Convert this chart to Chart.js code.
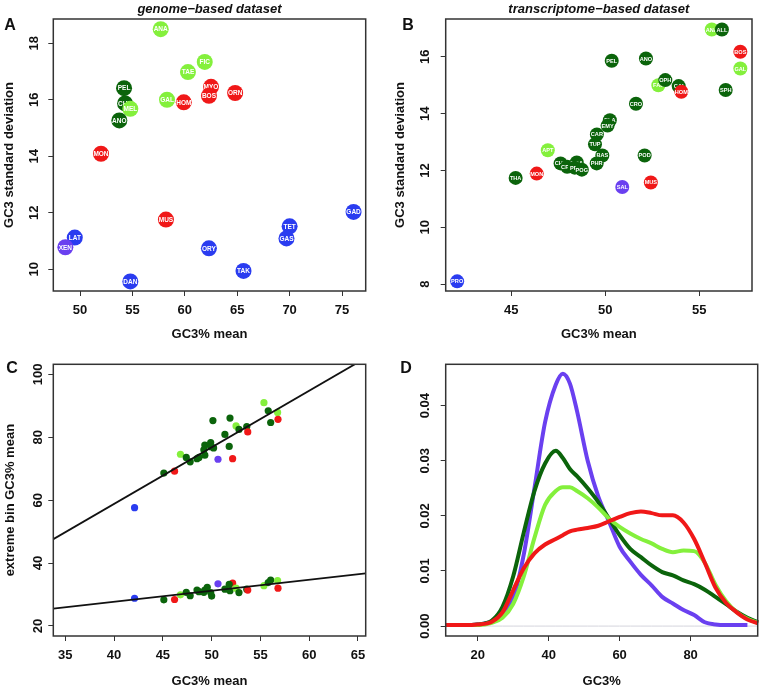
<!DOCTYPE html>
<html>
<head>
<meta charset="utf-8">
<script src="https://cdn.jsdelivr.net/npm/chart.js@4"></script>
<style>
  body { margin: 0; background: #fff; }
  #fig { position: relative; width: 759px; height: 691px; }
  #fig canvas { position: absolute; }
</style>
</head>
<body>
<div id="fig">
  <canvas id="cA" width="380" height="345" style="left:0;top:0"></canvas>
  <canvas id="cB" width="379" height="345" style="left:380px;top:0"></canvas>
  <canvas id="cC" width="380" height="346" style="left:0;top:345px"></canvas>
  <canvas id="cD" width="379" height="346" style="left:380px;top:345px"></canvas>
</div>
<script>
// panel A: genome-based dataset
const A_TAGS = ['ANA', 'FIC', 'TAE', 'MYO', 'ORN', 'BOS', 'HOM', 'GAL', 'PEL', 'CHR', 'MEL', 'ANO', 'MON', 'MUS', 'GAD', 'TET', 'GAS', 'LAT', 'XEN', 'ORY', 'TAK', 'DAN'];
const A_MEAN = [57.7, 61.9, 60.3, 62.5, 64.8, 62.3, 59.9, 58.3, 54.2, 54.3, 54.8, 53.75, 52.0, 58.2, 76.1, 70.0, 69.7, 49.5, 48.6, 62.3, 65.6, 54.8];
const A_SD = [18.5, 17.34, 16.98, 16.46, 16.24, 16.14, 15.91, 16.0, 16.41, 15.87, 15.68, 15.27, 14.09, 11.76, 12.03, 11.52, 11.09, 11.12, 10.78, 10.74, 9.94, 9.57];
const A_GROUP = ['lg', 'lg', 'lg', 'red', 'red', 'red', 'red', 'lg', 'dg', 'dg', 'lg', 'dg', 'red', 'red', 'blue', 'blue', 'blue', 'blue', 'pur', 'blue', 'blue', 'blue'];
const A_XTICKS = [50, 55, 60, 65, 70, 75];
const A_YTICKS = [10, 12, 14, 16, 18];

// panel B: transcriptome-based dataset
const B_TAGS = ['THA', 'MON', 'APT', 'CHE', 'CRA', 'BOA', 'PRI', 'POG', 'TUP', 'CAR', 'BAS', 'PHR', 'ELA', 'EMY', 'PEL', 'CRO', 'POD', 'SAL', 'MUS', 'ANO', 'FAL', 'OPH', 'CAI', 'HOM', 'ANA', 'ALL', 'SPH', 'GAL', 'BOS', 'PRO'];
const B_MEAN = [45.23, 46.35, 46.94, 47.62, 47.97, 48.48, 48.37, 48.75, 49.45, 49.55, 49.84, 49.54, 50.24, 50.12, 50.34, 51.63, 52.09, 50.9, 52.42, 52.16, 52.82, 53.19, 53.9, 54.04, 55.66, 56.2, 56.4, 57.18, 57.18, 42.12];
const B_SD = [11.74, 11.89, 12.71, 12.25, 12.13, 12.28, 12.1, 12.03, 12.92, 13.27, 12.53, 12.25, 13.77, 13.58, 15.86, 14.35, 12.53, 11.42, 11.58, 15.94, 15.0, 15.18, 14.97, 14.77, 16.96, 16.96, 14.83, 15.59, 16.18, 8.1];
const B_GROUP = ['dg', 'red', 'lg', 'dg', 'dg', 'dg', 'dg', 'dg', 'dg', 'dg', 'dg', 'dg', 'dg', 'dg', 'dg', 'dg', 'dg', 'pur', 'red', 'dg', 'lg', 'dg', 'dg', 'red', 'lg', 'dg', 'dg', 'lg', 'red', 'blue'];
const B_XTICKS = [45, 50, 55];
const B_YTICKS = [8, 10, 12, 14, 16];

// panel C: extreme bins vs mean
const C_UP_X = [55.36, 55.8, 56.76, 51.88, 50.13, 56.8, 56.05, 52.5, 53.6, 52.8, 53.7, 51.36, 49.9, 49.3, 51.8, 49.9, 50.2, 49.2, 49.3, 50.65, 52.15, 46.8, 47.4, 47.8, 48.5, 48.7, 45.1, 46.2, 42.1];
const C_UP_Y = [91.0, 88.4, 87.9, 86.1, 85.3, 85.7, 84.7, 83.6, 83.4, 82.5, 81.7, 80.9, 78.3, 77.5, 77.1, 77.0, 76.6, 76.0, 74.3, 73.0, 73.2, 74.6, 73.6, 72.2, 73.2, 73.6, 68.6, 69.2, 57.6];
const C_UP_GROUP = ['lg', 'dg', 'lg', 'dg', 'dg', 'red', 'dg', 'lg', 'dg', 'dg', 'red', 'dg', 'dg', 'dg', 'dg', 'dg', 'dg', 'dg', 'dg', 'pur', 'red', 'lg', 'dg', 'dg', 'dg', 'dg', 'dg', 'red', 'blue'];
const C_LO_X = [42.1, 45.1, 46.2, 46.8, 47.4, 47.8, 48.5, 48.7, 49.3, 49.55, 49.2, 50.0, 49.9, 50.65, 52.15, 51.36, 51.8, 51.88, 52.5, 52.8, 53.6, 53.7, 55.36, 55.8, 56.05, 56.76, 56.8];
const C_LO_Y = [28.8, 28.3, 28.4, 29.9, 30.7, 29.6, 31.4, 30.9, 31.4, 32.3, 30.7, 29.5, 30.6, 33.4, 33.6, 31.7, 33.2, 31.2, 32.0, 30.6, 31.7, 31.4, 32.8, 33.8, 34.6, 34.4, 32.0];
const C_LO_GROUP = ['blue', 'dg', 'red', 'lg', 'dg', 'dg', 'dg', 'dg', 'dg', 'dg', 'dg', 'dg', 'dg', 'pur', 'red', 'dg', 'dg', 'dg', 'lg', 'dg', 'dg', 'red', 'lg', 'dg', 'dg', 'lg', 'red'];
const C_FIT_UP = { slope: 1.80, intercept: -13.2 };
const C_FIT_LO = { slope: 0.351, intercept: 13.65 };
const C_XTICKS = [35, 40, 45, 50, 55, 60, 65];
const C_YTICKS = [20, 40, 60, 80, 100];

// panel D: GC3 densities
const D_GC = [11, 16, 20, 24, 27, 30, 33, 36, 39, 42, 44, 46, 48, 51, 54, 57, 60, 63, 66, 69, 72, 75, 78, 81, 84, 87, 90, 93, 96, 99];
const D_PURPLE = [0.0002, 0.0002, 0.0003, 0.0008, 0.002, 0.005, 0.013, 0.025, 0.037, 0.0438, 0.0458, 0.044, 0.039, 0.030, 0.0235, 0.019, 0.0144, 0.0117, 0.0093, 0.0074, 0.0053, 0.0041, 0.0029, 0.002, 0.0007, 0.0003, 0.0002, 0.0002, 0.0002, null];
const D_DARK = [0.0002, 0.0002, 0.0003, 0.001, 0.0035, 0.009, 0.017, 0.0245, 0.0295, 0.0318, 0.0305, 0.0285, 0.0272, 0.025, 0.0225, 0.0195, 0.0165, 0.014, 0.0125, 0.011, 0.0098, 0.0092, 0.0083, 0.0076, 0.0066, 0.0053, 0.004, 0.0026, 0.0015, 0.0007];
const D_LIGHT = [0.0002, 0.0002, 0.0002, 0.0006, 0.0015, 0.004, 0.009, 0.016, 0.022, 0.0245, 0.0252, 0.0252, 0.0245, 0.0232, 0.0215, 0.0195, 0.018, 0.0168, 0.0158, 0.015, 0.014, 0.0134, 0.0137, 0.0136, 0.0115, 0.0075, 0.0045, 0.0025, 0.0013, 0.0006];
const D_RED = [0.0002, 0.0002, 0.0003, 0.0008, 0.0025, 0.0065, 0.0105, 0.0132, 0.0148, 0.0158, 0.0165, 0.0172, 0.0175, 0.0178, 0.0182, 0.019, 0.0198, 0.0205, 0.0208, 0.0205, 0.0201, 0.0201, 0.0188, 0.0158, 0.0115, 0.007, 0.0042, 0.0025, 0.0012, 0.0005];
const D_XTICKS = [20, 40, 60, 80];
const D_YTICKS = [0, 0.01, 0.02, 0.03, 0.04];

const COLORS = { dg: '#0b640b', lg: '#84f03c', red: '#f01818', blue: '#2a3cf0', pur: '#6a40f0' };
const FAMILY = '"Liberation Sans", Arial, sans-serif';
const FONT13 = { family: FAMILY, size: 13, weight: 'bold', lineHeight: 1.2 };

// draws the frame round the plot area and the panel letter
const framePlugin = {
  id: 'frame',
  afterDraw(chart, args, opts) {
    const { ctx, chartArea: a } = chart;
    ctx.save();
    ctx.strokeStyle = '#333';
    ctx.lineWidth = 1.5;
    ctx.strokeRect(a.left, a.top, a.right - a.left, a.bottom - a.top);
    ctx.fillStyle = '#111';
    ctx.font = 'bold 16px ' + FAMILY;
    ctx.textAlign = 'center';
    ctx.textBaseline = 'middle';
    ctx.fillText(opts.letter, opts.lx, opts.ly);
    ctx.restore();
  }
};

// white abbreviation on each circle, drawn right after its own dataset
const tagPlugin = {
  id: 'tags',
  afterDatasetDraw(chart, args, opts) {
    const ds = chart.data.datasets[args.index];
    if (!ds.tag) return;
    const pt = args.meta.data[0];
    const ctx = chart.ctx;
    ctx.save();
    ctx.fillStyle = '#fff';
    ctx.font = 'bold ' + opts.size + 'px ' + FAMILY;
    ctx.textAlign = 'center';
    ctx.textBaseline = 'middle';
    ctx.fillText(ds.tag, pt.x, pt.y + 0.5);
    ctx.restore();
  }
};

function axis(o) {
  return {
    type: 'linear',
    min: o.min,
    max: o.max,
    afterBuildTicks: s => { s.ticks = o.ticks.map(v => ({ value: v })); },
    afterFit: s => { if (o.isY) s.width = o.size; else s.height = o.size; },
    border: { display: false },
    grid: { drawOnChartArea: false, drawTicks: true, tickLength: 5, tickColor: '#333', tickWidth: 1 },
    ticks: {
      color: '#111',
      font: FONT13,
      padding: o.pad,
      minRotation: o.isY ? 90 : 0,
      maxRotation: o.isY ? 90 : 0,
      crossAlign: o.isY ? 'center' : 'near',
      callback: v => (o.fmt ? o.fmt(v) : String(v))
    },
    title: {
      display: !!o.title,
      text: o.title,
      color: '#111',
      font: FONT13,
      padding: { top: o.tpad || 0, bottom: o.tpad || 0 }
    }
  };
}

function labelled(xs, ys, tags, groups, r) {
  return xs.map((x, i) => ({
    data: [{ x: x, y: ys[i] }],
    tag: tags[i],
    order: xs.length - i,
    backgroundColor: COLORS[groups[i]],
    borderWidth: 0,
    pointRadius: r,
    pointHoverRadius: r,
    clip: false
  }));
}

function baseOptions(o) {
  return {
    responsive: false,
    animation: false,
    events: [],
    layout: { padding: o.padding },
    scales: { x: o.x, y: o.y },
    plugins: {
      legend: { display: false },
      tooltip: { enabled: false },
      title: o.title ? {
        display: true,
        text: o.title,
        fullSize: false,
        color: '#111',
        font: { family: FAMILY, size: 13, weight: 'bold', style: 'italic', lineHeight: 1.2 },
        padding: { top: 1.5, bottom: 1.9 }
      } : { display: false },
      frame: o.frame,
      tags: { size: o.tagSize || 6 }
    }
  };
}

new Chart(document.getElementById('cA'), {
  type: 'scatter',
  data: { datasets: labelled(A_MEAN, A_SD, A_TAGS, A_GROUP, 8) },
  options: baseOptions({
    title: 'genome\u2212based dataset',
    padding: { left: 0, right: 14.3, top: 0, bottom: 0 },
    x: axis({ min: 47.45, max: 77.26, ticks: A_XTICKS, size: 54, pad: 7, title: 'GC3% mean', tpad: 2.8 }),
    y: axis({ isY: true, min: 9.23, max: 18.86, ticks: A_YTICKS, size: 53.3, pad: 7, title: 'GC3 standard deviation', tpad: 1.5 }),
    frame: { letter: 'A', lx: 10, ly: 26 },
    tagSize: 6.5
  }),
  plugins: [framePlugin, tagPlugin]
});

new Chart(document.getElementById('cB'), {
  type: 'scatter',
  data: { datasets: labelled(B_MEAN, B_SD, B_TAGS, B_GROUP, 7) },
  options: baseOptions({
    title: 'transcriptome\u2212based dataset',
    padding: { left: 0, right: 2.3, top: 0, bottom: 0 },
    x: axis({ min: 41.51, max: 57.8, ticks: B_XTICKS, size: 54, pad: 7, title: 'GC3% mean', tpad: 2.8 }),
    y: axis({ isY: true, min: 7.76, max: 17.33, ticks: B_YTICKS, size: 65.7, pad: 8.5, title: 'GC3 standard deviation', tpad: 12.8 }),
    frame: { letter: 'B', lx: 28, ly: 26 },
    tagSize: 5.6
  }),
  plugins: [framePlugin, tagPlugin]
});

const C_MIN = 33.77, C_MAX = 65.79;
function fitLine(fit) {
  return [C_MIN, C_MAX].map(x => ({ x: x, y: fit.intercept + fit.slope * x }));
}
function dots(xs, ys, groups) {
  return {
    type: 'scatter',
    data: xs.map((x, i) => ({ x: x, y: ys[i] })),
    backgroundColor: groups.map(g => COLORS[g]),
    borderWidth: 0,
    pointRadius: 3.6,
    pointHoverRadius: 3.6,
    order: 2
  };
}
function line(fit) {
  return {
    type: 'line',
    data: fitLine(fit),
    borderColor: '#111',
    borderWidth: 1.8,
    pointRadius: 0,
    clip: 0,
    order: 1
  };
}

new Chart(document.getElementById('cC'), {
  type: 'scatter',
  data: {
    datasets: [line(C_FIT_UP), line(C_FIT_LO), dots(C_UP_X, C_UP_Y, C_UP_GROUP), dots(C_LO_X, C_LO_Y, C_LO_GROUP)]
  },
  options: baseOptions({
    padding: { left: 0, right: 14.3, top: 19.3, bottom: 0 },
    x: axis({ min: C_MIN, max: C_MAX, ticks: C_XTICKS, size: 55, pad: 7, title: 'GC3% mean', tpad: 2.2 }),
    y: axis({ isY: true, min: 16.8, max: 103.2, ticks: C_YTICKS, size: 53.3, pad: -1, title: 'extreme bin GC3% mean', tpad: 2.8 }),
    frame: { letter: 'C', lx: 12, ly: 24 }
  }),
  plugins: [framePlugin]
});

function density(values, color) {
  return {
    data: D_GC.map((x, i) => ({ x: x, y: values[i] })),
    borderColor: color,
    borderWidth: 4,
    pointRadius: 0,
    cubicInterpolationMode: 'monotone',
    spanGaps: false,
    clip: 2
  };
}

new Chart(document.getElementById('cD'), {
  type: 'line',
  data: {
    datasets: [
      density(D_RED, COLORS.red),
      density(D_LIGHT, COLORS.lg),
      density(D_DARK, COLORS.dg),
      density(D_PURPLE, COLORS.pur),
      {
        data: D_GC.map(x => ({ x: x, y: 0 })),
        borderColor: '#d4d4dc',
        borderWidth: 1,
        pointRadius: 0
      }
    ]
  },
  options: baseOptions({
    padding: { left: 0, right: 1.3, top: 19.3, bottom: 0 },
    x: axis({ min: 11, max: 98.9, ticks: D_XTICKS, size: 55, pad: 7, title: 'GC3%', tpad: 2.2 }),
    y: axis({ isY: true, min: -0.0018, max: 0.0475, ticks: D_YTICKS, size: 65.7, pad: 3, fmt: v => v.toFixed(2) }),
    frame: { letter: 'D', lx: 26, ly: 24 }
  }),
  plugins: [framePlugin]
});
</script>
</body>
</html>
